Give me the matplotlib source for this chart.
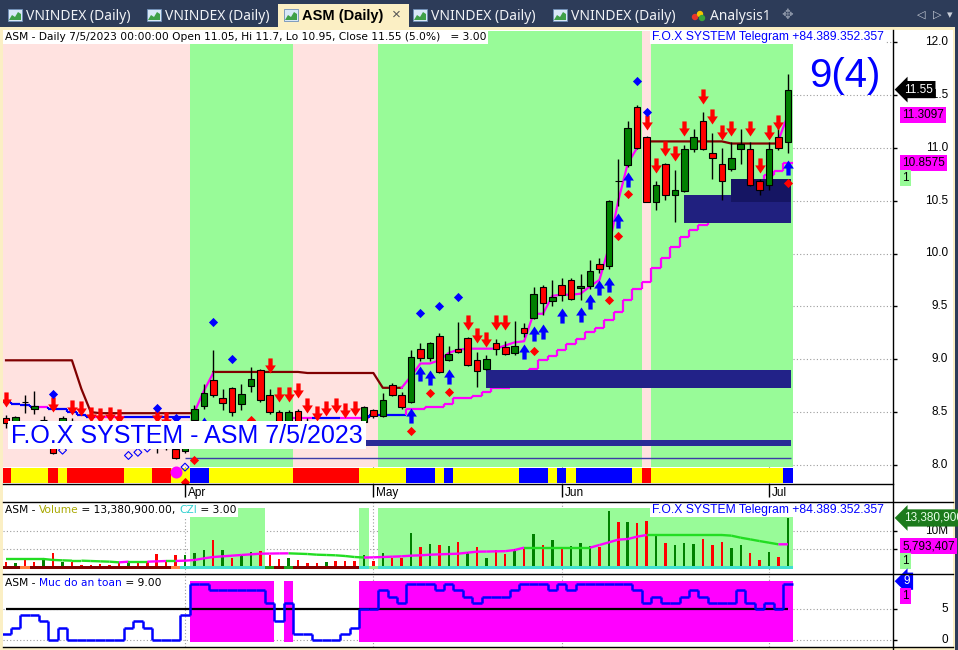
import numpy as np
import matplotlib
matplotlib.use("Agg")
from matplotlib import pyplot as plt
from matplotlib.path import Path
from matplotlib.patches import Rectangle, Circle, Polygon
from matplotlib.collections import LineCollection

plt.rcParams["font.family"] = ["Liberation Sans", "DejaVu Sans"]

# ---------------------------------------------------------------------------
# Data (bar index 0 = 7 Mar 2023 ... 83 = 5 Jul 2023)
# ---------------------------------------------------------------------------
month_labels = ["Apr", "May", "Jun", "Jul"]
month_pos = [19, 39, 59, 81]

opens = [8.44, 8.41, 8.60, 8.53, 8.43, 8.30, 8.40, 8.42, 8.36, 8.31,
         8.29, 8.28, 8.26, 8.22, 8.24, 8.25, 8.27, 8.17, 8.15, 8.13,
         8.43, 8.56, 8.80, 8.63, 8.73, 8.58, 8.75, 8.90, 8.66, 8.50,
         8.41, 8.51, 8.42, 8.38, 8.36, 8.40, 8.37, 8.39, 8.41, 8.52,
         8.46, 8.76, 8.66, 8.60, 9.10, 9.01, 9.22, 8.99, 9.10, 9.20,
         8.99, 8.91, 9.15, 9.12, 9.06, 9.30, 9.39, 9.68, 9.55, 9.70,
         9.75, 9.67, 9.69, 9.90, 9.88, 10.69, 10.84, 11.39, 11.10, 10.49,
         10.85, 10.55, 10.59, 10.99, 11.25, 10.95, 10.85, 10.80, 10.99, 10.99,
         10.69, 10.65, 11.10, 11.05]
highs = [8.47, 8.46, 8.66, 8.70, 8.46, 8.32, 8.46, 8.44, 8.38, 8.33,
         8.31, 8.30, 8.28, 8.26, 8.26, 8.27, 8.29, 8.19, 8.16, 8.19,
         8.57, 8.77, 9.09, 8.72, 8.74, 8.77, 8.93, 8.91, 8.72, 8.52,
         8.52, 8.53, 8.44, 8.40, 8.42, 8.41, 8.39, 8.41, 8.56, 8.53,
         8.68, 8.78, 8.69, 9.09, 9.15, 9.16, 9.25, 9.13, 9.35, 9.21,
         9.07, 9.04, 9.19, 9.17, 9.36, 9.34, 9.68, 9.70, 9.75, 9.77,
         9.77, 9.81, 9.94, 9.96, 10.51, 10.89, 11.25, 11.40, 11.11, 10.69,
         10.86, 10.79, 11.03, 11.18, 11.34, 11.14, 11.00, 11.05, 11.18, 11.05,
         10.70, 11.05, 11.20, 11.70]
lows = [8.35, 8.40, 8.49, 8.48, 8.38, 8.10, 8.38, 8.33, 8.28, 8.26,
        8.25, 8.23, 8.20, 8.20, 8.20, 8.20, 8.11, 8.14, 8.06, 8.11,
        8.40, 8.53, 8.64, 8.52, 8.46, 8.52, 8.69, 8.60, 8.48, 8.40,
        8.40, 8.40, 8.36, 8.33, 8.35, 8.35, 8.32, 8.34, 8.36, 8.44,
        8.45, 8.65, 8.53, 8.59, 8.98, 8.98, 8.87, 8.98, 9.06, 8.94,
        8.74, 8.90, 9.04, 9.04, 9.04, 9.21, 9.38, 9.42, 9.50, 9.55,
        9.56, 9.56, 9.66, 9.82, 9.85, 10.45, 10.82, 10.99, 10.49, 10.41,
        10.51, 10.30, 10.58, 10.96, 10.98, 10.70, 10.51, 10.78, 10.85, 10.64,
        10.55, 10.60, 10.98, 10.95]
closes = [8.40, 8.45, 8.60, 8.56, 8.43, 8.11, 8.44, 8.35, 8.30, 8.28,
          8.27, 8.25, 8.22, 8.24, 8.22, 8.22, 8.22, 8.16, 8.07, 8.17,
          8.53, 8.68, 8.66, 8.59, 8.50, 8.67, 8.81, 8.61, 8.50, 8.41,
          8.50, 8.41, 8.38, 8.36, 8.40, 8.37, 8.35, 8.35, 8.55, 8.46,
          8.61, 8.66, 8.55, 9.02, 9.01, 9.15, 8.88, 9.05, 9.07, 8.95,
          8.89, 9.00, 9.10, 9.05, 9.13, 9.25, 9.62, 9.53, 9.59, 9.61,
          9.57, 9.69, 9.83, 9.85, 10.50, 10.69, 11.19, 11.00, 10.49, 10.65,
          10.55, 10.60, 10.99, 11.10, 10.99, 10.90, 10.69, 10.90, 11.04, 10.65,
          10.60, 10.99, 11.00, 11.55]

# volume in millions of shares, colour code per bar (r = down, g = up)
volume = [1.69, 1.25, 2.41, 1.69, 2.41, 4.10, 1.69, 1.69, 0.80, 0.80,
          1.07, 0.80, 1.69, 1.87, 1.87, 1.87, 3.65, 1.96, 3.48, 3.48,
          4.10, 4.81, 7.49, 4.81, 2.76, 3.48, 4.37, 4.55, 3.48, 2.41,
          2.58, 2.14, 1.25, 1.25, 1.69, 1.87, 1.87, 1.87, 3.48, 1.87,
          3.92, 2.58, 2.76, 9.27, 5.70, 6.33, 6.15, 5.88, 6.86, 4.37,
          5.70, 2.76, 4.81, 3.74, 5.08, 4.99, 9.09, 6.15, 7.49, 5.26,
          5.97, 6.77, 5.97, 5.53, 15.24, 12.39, 12.39, 11.94, 12.57, 9.00,
          6.60, 6.15, 6.60, 6.42, 7.75, 6.15, 6.86, 5.44, 6.15, 3.92,
          2.14, 4.19, 3.03, 13.38]
volume_dir = ("rgrrgrgrrr" "rrrgrrrrrg" "ggrgrggrrr" "grrrgrrrgr" "grrgrgrgrg"
              "rgrrgrgrgr" "gggrgrgrrg" "rgggrrrggr" "rgrg")
volume_ma = [2.41, 2.41, 2.41, 2.41, 2.41, 2.15, 2.05, 1.96, 1.96, 1.87,
             1.78, 1.69, 1.51, 1.69, 1.69, 1.69, 1.78, 1.87, 1.87, 1.96,
             2.14, 2.58, 2.94, 3.12, 3.30, 3.48, 3.65, 3.83, 3.86, 3.90,
             3.92, 3.83, 3.74, 3.56, 3.48, 3.39, 3.21, 2.94, 2.80, 2.85,
             2.94, 3.03, 3.12, 3.30, 3.39, 3.56, 3.65, 3.74, 3.83, 4.10,
             4.37, 4.40, 4.45, 4.50, 4.81, 5.44, 5.44, 5.44, 5.44, 5.44,
             5.44, 5.44, 5.44, 6.15, 6.86, 7.58, 7.75, 8.38, 8.82, 8.82,
             8.82, 8.82, 8.82, 8.82, 8.82, 8.82, 8.82, 8.65, 8.10, 7.66,
             7.20, 6.77, 6.33, 6.34]

# "Muc do an toan" (safety level)
safety = [1, 2, 4, 4, 3, 0, 2, 0, 0, 0,
          0, 0, 0, 2, 3, 2, 0, 0, 0, 4,
          9, 9, 8, 8, 8, 8, 8, 8, 6, 3,
          6, 1, 1, 0, 0, 0, 1, 2, 5, 5,
          8, 7, 6, 9, 9, 9, 8, 9, 8, 7,
          6, 7, 7, 7, 8, 9, 9, 9, 8, 9,
          8, 9, 9, 9, 9, 9, 9, 8, 6, 7,
          6, 6, 7, 8, 7, 6, 6, 6, 8, 6,
          5, 6, 5, 9]
safety_line = 5

nan = np.nan
stop_line = ([8.99] * 8 + [8.72, 8.50] + [8.49] * 11 + [nan] + [8.88] * 10 + [8.87] * 8
             + [8.73] * 3 + [nan] * 25 + [11.06] * 9 + [11.04] * 6 + [nan])
trail_lo = ([8.60, 8.58, 8.57, 8.55, 8.55, 8.53, 8.53, 8.50, 8.47] + [8.45] * 11 + [nan] * 11
            + [8.44] * 8 + [8.47] * 4
            + [8.53, 8.53, 8.55, 8.55, 8.58, 8.63, 8.63, 8.65, 8.69, 8.73, 8.73, 8.76, 8.80,
               8.91, 8.99, 9.03, 9.09, 9.14, 9.19, 9.26, 9.30, 9.37, 9.45, 9.56, 9.66, 9.73,
               9.86, 9.96, 10.06, 10.16, 10.22, 10.27, 10.35, 10.42, 10.48, 10.55, 10.62,
               10.68, 10.74, 10.78, 10.86])
trail_lo_mode = "bbbb" "m" "bbbbb" "mmm" "bbbbbbb" "bbbbbbbbbbb" "mm" "bbb" "mmm" "bbbb" + "m" * 41
trail_hi = ([nan] * 20 + [8.50, 8.70, 8.87] + [nan] * 19
            + [8.73, 8.84, 8.96, 8.96, 8.99, 9.06, 9.09, 9.10, 9.10, 9.10, 9.10, 9.13, 9.16,
               9.17, 9.43, 9.43, 9.60, 9.61, 9.61, 9.62, 9.69, 9.75, 10.06, 10.50, 10.85, 11.00]
            + [nan] * 14 + [11.07, 11.31])

sell_idx = [0, 5, 7, 8, 9, 10, 11, 12, 16, 17, 28, 29, 30, 31, 32, 33, 34, 35, 36, 37,
            49, 50, 51, 52, 53, 68, 69, 70, 71, 72, 74, 75, 76, 77, 79, 80, 81, 82]
sell_px = [8.55, 8.50, 8.47, 8.46, 8.41, 8.40, 8.41, 8.39, 8.40, 8.36, 8.87, 8.60, 8.60, 8.63,
           8.49, 8.42, 8.46, 8.49, 8.44, 8.46, 9.28, 9.15, 9.12, 9.28, 9.28, 11.17, 10.76,
           10.92, 10.87, 11.11, 11.41, 11.22, 11.07, 11.11, 11.11, 10.76, 11.07, 11.17]
buy_idx = [21, 43, 44, 45, 47, 55, 56, 57, 59, 61, 62, 63, 64, 65, 66, 83]
buy_px = [8.45, 8.54, 8.94, 8.90, 8.91, 9.14, 9.31, 9.33, 9.48, 9.49, 9.62, 9.75, 9.78,
          10.38, 10.77, 10.88]
blue_dot_idx = [5, 16, 18, 22, 24, 44, 46, 48, 67, 68]
blue_dot_px = [8.67, 8.54, 8.44, 9.35, 9.00, 9.44, 9.50, 9.59, 11.63, 11.34]
red_dot_idx = [19, 20, 26, 43, 45, 47, 56, 64, 65, 66, 83]
red_dot_px = [7.84, 8.05, 8.43, 8.32, 8.68, 8.69, 9.08, 9.56, 10.17, 10.56, 10.67]
hollow_idx = [6, 13, 14, 15, 19]
hollow_px = [8.14, 8.09, 8.12, 8.16, 7.98]
pink_dot_idx = [18]
pink_dot_px = [7.93]

zone_start = [51, 72, 77, 38]
zone_end = [83, 83, 83, 83]
zone_lo = [8.73, 10.29, 10.49, 8.18]
zone_hi = [8.90, 10.55, 10.70, 8.24]
base_line = 8.07
base_line_start = 19

price_bg_runs = [("p", 0, 19), ("g", 20, 30), ("p", 31, 39), ("g", 40, 67), ("p", 68, 68), ("g", 69, 83)]
ribbon_runs = [("r", 0, 0), ("y", 1, 4), ("r", 5, 5), ("y", 6, 6), ("r", 7, 12), ("y", 13, 15),
               ("r", 16, 17), ("y", 18, 19), ("b", 20, 21), ("y", 22, 30), ("r", 31, 37),
               ("y", 38, 42), ("b", 43, 45), ("y", 46, 46), ("b", 47, 47), ("y", 48, 54),
               ("b", 55, 57), ("y", 58, 58), ("b", 59, 59), ("y", 60, 60), ("b", 61, 66),
               ("y", 67, 67), ("r", 68, 68), ("y", 69, 82), ("b", 83, 83)]
czi_runs = [("d", 0, 1), ("o", 2, 2), ("d", 3, 17), ("o", 18, 18), ("c", 19, 27), ("g", 28, 28),
            ("d", 29, 29), ("g", 30, 30), ("d", 31, 37), ("c", 38, 38), ("l", 39, 39), ("c", 40, 83)]
vol_bg_runs = [(20, 27), (38, 38), (40, 83)]
safety_bg_runs = [(20, 28), (30, 30), (38, 83)]

close_last = 11.55
hi_last = 11.3097
lo_last = 10.8575
vol_last = 13.3809
vol_ma_last = 5.793407

# ---------------------------------------------------------------------------
W, H = 958, 650
NAVY = "#2d3c59"
CREAM = "#fbefc4"
PINK = "#ffe2e0"
LGREEN = "#98fb98"
MAG = "#ff00ff"
BLUE = "#0000ff"
GRID = dict(color="#9c9c9c", ls=(0, (1, 2)), lw=0.8)
TITLE_FONT = ["DejaVu Sans"]

fig = plt.figure(figsize=(W / 100, H / 100), dpi=100)
fig.patch.set_facecolor(NAVY)


def px_axes(x0, y0, x1, y1):
    return fig.add_axes([x0 / W, 1 - y1 / H, (x1 - x0) / W, (y1 - y0) / H])


n = len(closes)
idx = np.arange(n)
xlim = ((3 - 6.0) / 9.42, (893 - 6.0) / 9.42)

# ---- window chrome ---------------------------------------------------------
bg = px_axes(0, 0, W, H)
bg.set_xlim(0, W)
bg.set_ylim(H, 0)
bg.axis("off")
bg.add_patch(Rectangle((0, 0), W, 27, fc=NAVY, ec="none"))
bg.add_patch(Rectangle((0, 27), 955, H - 27, fc=CREAM, ec="none"))
bg.add_patch(Rectangle((3, 30), 950, H - 32, fc="white", ec="none"))
bg.add_patch(Rectangle((278, 4), 131, 24, fc=CREAM, ec="none"))

tab_text = ["VNINDEX (Daily)", "VNINDEX (Daily)", "ASM (Daily)", "VNINDEX (Daily)",
            "VNINDEX (Daily)", "Analysis1"]
tab_left = [8, 147, 284, 413, 553, 692]
for k, (lab, x0) in enumerate(zip(tab_text, tab_left)):
    if k < 5:
        bg.add_patch(Rectangle((x0, 9), 14, 12, fc="#d9e8f7", ec="#6e8fb8", lw=0.6))
        bg.add_patch(Polygon([(x0 + 1, 20), (x0 + 4, 15), (x0 + 7, 17), (x0 + 10, 12),
                              (x0 + 13, 14), (x0 + 13, 20)], fc="#3fa047", ec="none"))
    else:
        for dx, dy, c in [(3, 17, "#e8342a"), (8, 14, "#f5c400"), (10, 18, "#3aa53a")]:
            bg.add_patch(Circle((x0 + dx, dy), 3.2, fc=c, ec="none"))
    if k == 2:
        bg.text(x0 + 18, 16, lab, fontsize=10.5, color="black", fontweight="bold",
                va="center", ha="left")
    else:
        bg.text(x0 + 18, 16, lab, fontsize=10, family=["Noto Sans", "DejaVu Sans"],
                color="#f0f2f6", va="center", ha="left")
bg.text(396, 15, "\u00d7", fontsize=11, color="#555555", va="center", ha="center")
bg.text(787, 15, "\u2725", fontsize=10, color="#8c96a8", va="center", ha="center",
        family=["DejaVu Sans"])
for xx, ch in [(921, "\u25c1"), (937, "\u25b7"), (950, "\u25be")]:
    bg.text(xx, 15, ch, fontsize=8, color="#c9ced8", va="center", ha="center",
            family=["DejaVu Sans"])


def panel(y0, y1, ylim):
    ax = px_axes(3, y0, 893, y1)
    ax.set_xlim(*xlim)
    ax.set_ylim(*ylim)
    for s in ax.spines.values():
        s.set_visible(False)
    ax.set_axisbelow(True)
    ax.yaxis.tick_right()
    ax.set_xticks(month_pos)
    ax.tick_params(axis="x", length=0, labelbottom=False)
    ax.tick_params(axis="y", direction="out", length=3, width=1, labelright=False, right=True)
    ax.grid(True, **GRID)
    return ax


def ylab(ax, value, text):
    ax.annotate(text, xy=(1.0, value), xycoords=("axes fraction", "data"),
                xytext=(55, 0), textcoords="offset pixels", ha="right", va="center",
                fontsize=8.5, annotation_clip=False)


def tag(ax, value, text, fc, tc, dy=0, arrow=False):
    style = "larrow,pad=0.22" if arrow else "square,pad=0.18"
    ax.annotate(text, xy=(1.0, value), xycoords=("axes fraction", "data"),
                xytext=(11 if arrow else 9, dy), textcoords="offset pixels",
                ha="left", va="center", fontsize=8.5, color=tc, zorder=30,
                bbox=dict(boxstyle=style, fc=fc, ec="none"), annotation_clip=False)


def stair_segments(vals, modes=None):
    segs, cols = [], []
    for i, v in enumerate(vals):
        if np.isnan(v):
            continue
        c = modes[i] if modes else "k"
        segs.append([(i - 0.5, v), (i + 0.5, v)])
        cols.append(c)
        if i + 1 < len(vals) and not np.isnan(vals[i + 1]):
            segs.append([(i + 0.5, v), (i + 0.5, vals[i + 1])])
            cols.append(modes[i + 1] if modes else "k")
    return segs, cols


# ---- price panel -------------------------------------------------------------
ax = panel(31, 484, (12 - (484 - 42) / 105.75, 12 + (42 - 31) / 105.75))
ax.set_yticks(np.arange(8.0, 12.01, 0.5))
ax.tick_params(axis="x", direction="out", length=9, width=1, bottom=True)
for v in np.arange(8.0, 12.01, 0.5):
    ylab(ax, v, f"{v:.1f}")
for lab, p in zip(month_labels, month_pos):
    ax.annotate(lab, xy=(p, 0), xycoords=("data", "axes fraction"), xytext=(3, -9),
                textcoords="offset pixels", ha="left", va="center", fontsize=8.5,
                annotation_clip=False)

bg_col = {"p": PINK, "g": LGREEN}
for code, a, b in price_bg_runs:
    ax.add_patch(Rectangle((a - 0.5, 7.98), b - a + 1, 4.4, fc=bg_col[code], ec="none", zorder=1))
rib_col = {"r": "#ff0000", "y": "#ffff00", "b": "#0000ff"}
for code, a, b in ribbon_runs:
    ax.add_patch(Rectangle((a - 0.5, 7.833), b - a + 1, 0.136, fc=rib_col[code], ec="none", zorder=1.5))

zone_col = ["#222288", "#20207f", "#151563", "#2a2a96"]
for s, e, lo, hi, c in zip(zone_start, zone_end, zone_lo, zone_hi, zone_col):
    ax.add_patch(Rectangle((s, lo), e - s + 0.3, hi - lo, fc=c, ec="none", zorder=3))
ax.hlines(base_line, base_line_start, n - 0.7, color="#3c3ca8", lw=1, zorder=3)

ax.plot(idx, stop_line, color="#800000", lw=1.6, zorder=2.6)
segs, cols = stair_segments(trail_lo, [BLUE if m == "b" else MAG for m in trail_lo_mode])
ax.add_collection(LineCollection(segs, colors=cols, lw=1.6, zorder=2.5))
ax.plot(idx, trail_hi, color=MAG, lw=1.6, zorder=2.7)

o = np.array(opens)
c = np.array(closes)
ax.vlines(idx, lows, highs, color="black", lw=1, zorder=4)
ax.bar(idx, np.abs(c - o), bottom=np.minimum(o, c), width=0.7,
       color=np.where(c >= o, "#008000", "#ff0000"), edgecolor="black", lw=0.8, zorder=5)

arrow_v = [(0, 0), (0.5, 0.75), (0.2, 0.75), (0.2, 1.4), (-0.2, 1.4), (-0.2, 0.75),
           (-0.5, 0.75), (0, 0)]
codes = [Path.MOVETO] + [Path.LINETO] * 6 + [Path.CLOSEPOLY]
down_arrow = Path(arrow_v, codes)
up_arrow = Path([(x, -y) for x, y in arrow_v], codes)
ax.scatter(sell_idx, sell_px, marker=down_arrow, s=470, c="#ff0000", lw=0, zorder=6)
ax.scatter(buy_idx, buy_px, marker=up_arrow, s=470, c=BLUE, lw=0, zorder=6)
ax.scatter(blue_dot_idx, blue_dot_px, marker="D", s=22, c=BLUE, lw=0, zorder=6)
ax.scatter(red_dot_idx, red_dot_px, marker="D", s=22, c="#ff0000", lw=0, zorder=6)
ax.scatter(hollow_idx, hollow_px, marker="D", s=16, facecolors="none", edgecolors=BLUE,
           lw=0.8, zorder=6)
ax.scatter(pink_dot_idx, pink_dot_px, marker="o", s=75, c=MAG, lw=0, zorder=6)

tag(ax, close_last, "11.55", "black", "white", arrow=True)
tag(ax, hi_last, f"{hi_last:.4f}", MAG, "black")
tag(ax, lo_last, f"{lo_last:.4f}", MAG, "black")
tag(ax, lo_last, "1", LGREEN, "black", dy=-15)

# ---- volume panel ------------------------------------------------------------
axv = panel(502, 573, (-(573 - 568) / 3.74, (568 - 502) / 3.74))
axv.set_yticks([5, 10])
ylab(axv, 10, "10M")
for a, b in vol_bg_runs:
    axv.add_patch(Rectangle((a - 0.5, -0.3), b - a + 1, 16.3, fc=LGREEN, ec="none", zorder=1))
axv.bar(idx, volume, width=0.26, color=["#ff0000" if d == "r" else "#008000" for d in volume_dir],
        zorder=3)
czi_col = {"d": "#800000", "o": "#ff8040", "c": "#40e0d0", "g": "#20a020", "l": "#90ee90"}
for code, a, b in czi_runs:
    axv.add_patch(Rectangle((a - 0.5, -0.15), b - a + 1, 0.75, fc=czi_col[code], ec="none", zorder=4))
ma = np.array(volume_ma)
ma_segs = [[(i, ma[i]), (i + 1, ma[i + 1])] for i in range(n - 1)]
ma_cols = [MAG if ma[i + 1] > ma[i] else "#22dd22" for i in range(n - 1)]
axv.add_collection(LineCollection(ma_segs, colors=ma_cols, lw=1.7, zorder=5))
tag(axv, vol_last, "13,380,900", "#1b7a1b", "#e8ffe8", arrow=True)
tag(axv, vol_ma_last, "5,793,407", MAG, "black")
tag(axv, vol_ma_last, "1", LGREEN, "black", dy=-15)

# ---- safety panel ------------------------------------------------------------
axs = panel(574, 647, (-(647 - 640) / 6.2, (640 - 574) / 6.2))
axs.set_yticks([0, 5])
ylab(axs, 5, "5")
ylab(axs, 0, "0")
for a, b in safety_bg_runs:
    axs.add_patch(Rectangle((a - 0.5, -0.25), b - a + 1, 9.77, fc=MAG, ec="none", zorder=1))
axs.hlines(safety_line, 0, n - 1, color="black", lw=1.6, zorder=3)
segs, cols = stair_segments([float(v) for v in safety])
axs.add_collection(LineCollection(segs, colors=BLUE, lw=1.8, zorder=4))
tag(axs, safety[-1], "9", BLUE, "white", dy=3, arrow=True)
tag(axs, safety[-1], "1", MAG, "black", dy=-12)

# ---- overlay texts and frame lines ------------------------------------------
top = px_axes(0, 0, W, H)
top.set_xlim(0, W)
top.set_ylim(H, 0)
top.axis("off")
for y, x1 in [(484, 893), (502, 953), (574, 953), (647, 953)]:
    top.plot([3, x1], [y, y], color="black", lw=1)
top.plot([893, 893], [30, 650], color="black", lw=1)

renderer = fig.canvas.get_renderer()


def advance(s, size, family):
    t = top.text(0, 0, s + "x", fontsize=size, family=family)
    t2 = top.text(0, 0, "x", fontsize=size, family=family)
    w = t.get_window_extent(renderer).width - t2.get_window_extent(renderer).width
    t.remove()
    t2.remove()
    return w


def label(x, y, pieces, size=7.7, family=TITLE_FONT):
    total = advance("".join(p for p, _ in pieces), size, family)
    top.add_patch(Rectangle((x - 2, y - 7), total + 4, 13.5, fc="white", ec="none"))
    for s, col in pieces:
        top.text(x, y, s, fontsize=size, color=col, va="center", ha="left", family=family)
        x += advance(s, size, family)


label(5, 37, [("ASM - Daily 7/5/2023 00:00:00 Open 11.05, Hi 11.7, Lo 10.95, "
               "Close 11.55 (5.0%)   = 3.00", "black")])
label(652, 37, [("F.O.X SYSTEM Telegram +84.389.352.357", BLUE)], size=8.7,
      family=["Liberation Sans"])
label(5, 510, [("ASM - ", "black"), ("Volume", "#a8a800"), (" = 13,380,900.00, ", "black"),
               ("CZI", "#30d0d0"), (" = 3.00", "black")])
label(652, 510, [("F.O.X SYSTEM Telegram +84.389.352.357", BLUE)], size=8.7,
      family=["Liberation Sans"])
label(5, 583, [("ASM - ", "black"), ("Muc do an toan", BLUE), (" = 9.00", "black")])

top.text(845, 76, "9(4)", fontsize=29, color=BLUE, ha="center", va="center")
top.add_patch(Rectangle((8, 421), 358, 28, fc="white", ec="none"))
top.text(11, 436, "F.O.X SYSTEM - ASM 7/5/2023", fontsize=18, color=BLUE,
         ha="left", va="center")

fig.savefig("out.png", dpi=100, facecolor=fig.get_facecolor())
